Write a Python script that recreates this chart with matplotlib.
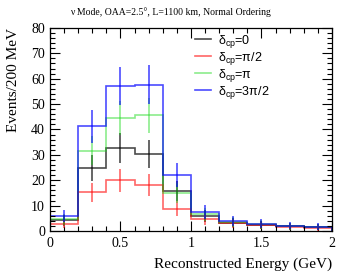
import numpy as np
import matplotlib
matplotlib.use('Agg')
import matplotlib.pyplot as plt
from matplotlib.ticker import MultipleLocator

# bin edges in reconstructed energy (GeV)
edges = np.round(np.arange(0, 2.01, 0.2), 2)

# events per 200 MeV bin
dcp_0 = [4.2, 24.8, 32.7, 30.3, 15.8, 6.0, 3.3, 2.5, 1.8, 1.4]
dcp_pi2 = [2.8, 15.2, 19.9, 18.1, 8.7, 4.7, 3.0, 2.2, 1.5, 1.2]
dcp_pi = [4.6, 31.7, 44.4, 45.5, 14.9, 6.6, 3.6, 2.6, 1.9, 1.5]
dcp_3pi2 = [6.0, 41.2, 57.0, 57.6, 22.0, 7.4, 4.0, 2.9, 2.1, 1.7]

labels = [r'δ$_{\rm cp}$=0', r'δ$_{\rm cp}$=π/2', r'δ$_{\rm cp}$=π', r'δ$_{\rm cp}$=3π/2']
series = [dcp_0, dcp_pi2, dcp_pi, dcp_3pi2]
colors = [(0, 0, 0, 0.7), (1, 0, 0, 0.6), (0.1, 0.85, 0.1, 0.5), (0, 0, 1, 0.7)]

plt.rcParams['font.family'] = ['Liberation Serif', 'DejaVu Serif']
plt.rcParams['mathtext.fontset'] = 'custom'
plt.rcParams['mathtext.rm'] = 'Liberation Sans'
plt.rcParams['mathtext.it'] = 'Liberation Sans:italic'

fig = plt.figure(figsize=(3.49, 2.76), dpi=100)
ax = fig.add_axes([0.143, 0.163, 0.808, 0.736])

centers = 0.5 * (edges[:-1] + edges[1:])
for vals, col, lab in zip(series, colors, labels):
    vals = np.array(vals)
    ax.stairs(vals, edges, color=col, lw=1.2, label=lab)
    ax.errorbar(centers, vals, yerr=np.sqrt(vals), fmt='none', ecolor=col, elinewidth=1.2)

ax.set_xlim(0, 2)
ax.set_ylim(0, 80)
ax.xaxis.set_major_locator(MultipleLocator(0.5))
ax.xaxis.set_minor_locator(MultipleLocator(0.1))
ax.yaxis.set_major_locator(MultipleLocator(10))
ax.yaxis.set_minor_locator(MultipleLocator(2))
ax.xaxis.set_major_formatter(plt.FuncFormatter(lambda v, p: '%g' % v))
ax.tick_params(which='both', direction='in', top=True, right=True, labelsize=10, width=0.8)
ax.tick_params(which='major', length=7)
ax.tick_params(which='minor', length=3.5)
ax.tick_params(axis='x', pad=4)
for s in ax.spines.values():
    s.set_linewidth(0.9)

ax.set_xlabel('Reconstructed Energy (GeV)', fontsize=11, loc='right', labelpad=6)
ax.set_ylabel('Events/200 MeV', fontsize=11, loc='top', labelpad=8)
fig.text(0.487, 0.955, 'ν Mode, OAA=2.5°, L=1100 km, Normal Ordering',
         fontsize=7, ha='center', va='center')

leg = ax.legend(loc='upper left', bbox_to_anchor=(0.515, 0.975), frameon=False,
                prop={'family': 'Liberation Sans', 'size': 9},
                handlelength=1.3, handletextpad=0.5, labelspacing=0.0,
                borderaxespad=0.0, borderpad=0.0)

fig.savefig('out.png', dpi=100)
